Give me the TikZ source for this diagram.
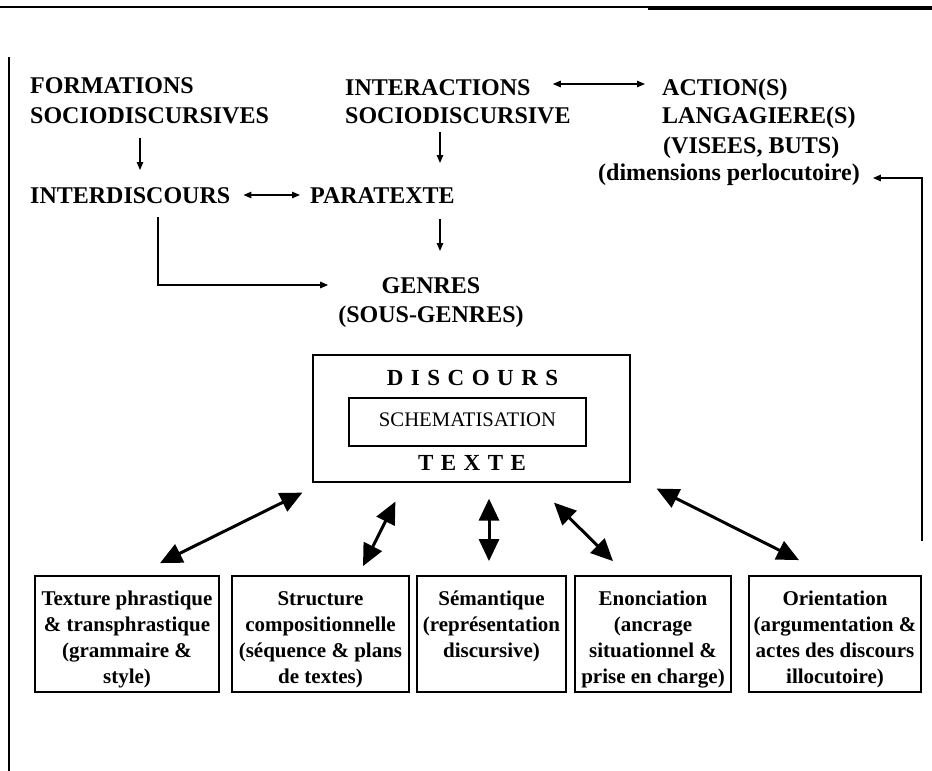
\documentclass[tikz,border=0pt]{standalone}
\usepackage{fontspec}
\setmainfont{Liberation Serif}
\usetikzlibrary{arrows.meta,calc}
\newcommand\lsp{\hspace{7.5pt}}
\newcommand\cellbox[2]{\vbox to 116pt{\hsize=#1\relax\fontsize{21}{26}\selectfont\bfseries\centering\vskip 10.8pt\strut #2\par\vfil}}
\begin{document}
\begin{tikzpicture}[x=1pt,y=-1pt,
  tt/.style={font=\fontsize{24}{29.5}\selectfont\bfseries, inner sep=0pt, anchor=base west},
  sarr/.style={-{Triangle[length=8pt,width=6.5pt]}, line width=1.3pt},
  darr/.style={{Triangle[length=8pt,width=6.5pt]}-{Triangle[length=8pt,width=6.5pt]}, line width=1.3pt},
  barr/.style={{Triangle[length=22pt,width=20pt]}-{Triangle[length=22pt,width=20pt]}, line width=3pt},
  cell/.style={draw, line width=1.8pt, inner sep=0pt},
  frame/.style={draw, line width=1.2pt, inner sep=0pt}]
\useasboundingbox (0,0) rectangle (932,771);
% page rules
\draw[line width=1.2pt] (0,7) -- (932,7);
\draw[line width=3pt] (648,8.5) -- (932,8.5);
\draw[line width=2pt] (9,57) -- (9,771);

% top texts
\node[tt] (form1) at (30,93) {FORMATIONS};
\node[tt] (form2) at (30,123) {SOCIODISCURSIVES};
\node[tt] (inter1) at (345,95) {INTERACTIONS};
\node[tt] (inter2) at (345,123) {SOCIODISCURSIVE};
\node[tt] (act1) at (662,95) {ACTION(S)};
\node[tt] (act2) at (662,123) {LANGAGIERE(S)};
\node[tt] (act3) at (663,153) {(VISEES, BUTS)};
\node[tt] (perl) at (598,180) {(dimensions perlocutoire)};
\node[tt] (interd) at (30,203) {INTERDISCOURS};
\node[tt] (para) at (310,203) {PARATEXTE};
\node[tt,anchor=base] (gen1) at (431,293) {GENRES};
\node[tt,anchor=base] (gen2) at (431,322) {(SOUS-GENRES)};

% discours box
\node[frame, minimum width=317pt, minimum height=127pt] (disc) at (471.5,418.5) {};
\node[font=\fontsize{23}{28}\selectfont\bfseries, inner sep=0pt, anchor=base] (discT) at (472.5,385) {D\lsp I\lsp S\lsp C\lsp O\lsp U\lsp R\lsp S};
\node[frame, minimum width=237pt, minimum height=48pt, font=\fontsize{20.7}{25}\selectfont, text depth=5pt] (schem) at (467.5,422) {SCHEMATISATION};
\node[font=\fontsize{23}{28}\selectfont\bfseries, inner sep=0pt, anchor=base] (texte) at (472,470) {T\lsp E\lsp X\lsp T\lsp E};

% bottom boxes
\node[cell] (b1) at (127,634) {\cellbox{184pt}{Texture phrastique\\\& transphrastique\\(grammaire \&\\style)}};
\node[cell] (b2) at (320.5,634) {\cellbox{177pt}{Structure\\compositionnelle\\(séquence \& plans\\de textes)}};
\node[cell] (b3) at (491.5,634) {\cellbox{149pt}{Sémantique\\(représentation\\discursive)}};
\node[cell] (b4) at (653,634) {\cellbox{156pt}{Enonciation\\(ancrage\\situationnel \&\\prise en charge)}};
\node[cell] (b5) at (835,634) {\cellbox{172pt}{Orientation\\(argumentation \&\\actes des discours\\illocutoire)}};

% thin connectors
\coordinate (c1) at (140,0);
\coordinate (c2) at (440,0);
\draw[sarr] ($(form2.base -| c1)+(0,15)$) -- ($(interd.base -| c1)+(0,-33)$);
\draw[sarr] ($(inter2.base -| c2)+(0,9)$) -- ($(para.base -| c2)+(0,-40)$);
\draw[sarr] ($(para.base -| c2)+(0,16)$) -- ($(gen1.base -| c2)+(0,-42)$);
\draw[darr] ($(interd.base east)+(13,-8)$) -- ($(para.base west)+(-10,-8)$);
\draw[darr] ($(inter1.base east)+(22,-11)$) -- ($(act1.base west)+(-17,-11)$);
\draw[sarr] ($(interd.base west)+(128,14)$) |- ($(gen2.base west)+(-10,-37)$);
\draw[sarr] ($(b5.north east)+(0,-34)$) |- ($(perl.base east)+(13,-2)$);

% thick connectors
\draw[barr] ($(disc.south west)+(-10,10)$) -- ($(b1.north)+(33,-12)$);
\draw[barr] ($(disc.south west)+(83,19)$) -- ($(b2.north)+(42.5,-9)$);
\draw[barr] ($(disc.south)+(17.5,16)$) -- ($(b3.north)+(-2.5,-14)$);
\draw[barr] ($(disc.south)+(82.5,20)$) -- ($(b4.north)+(-40,-14)$);
\draw[barr] ($(disc.south east)+(26,6)$) -- ($(b5.north)+(-36,-15)$);
\end{tikzpicture}
\end{document}
